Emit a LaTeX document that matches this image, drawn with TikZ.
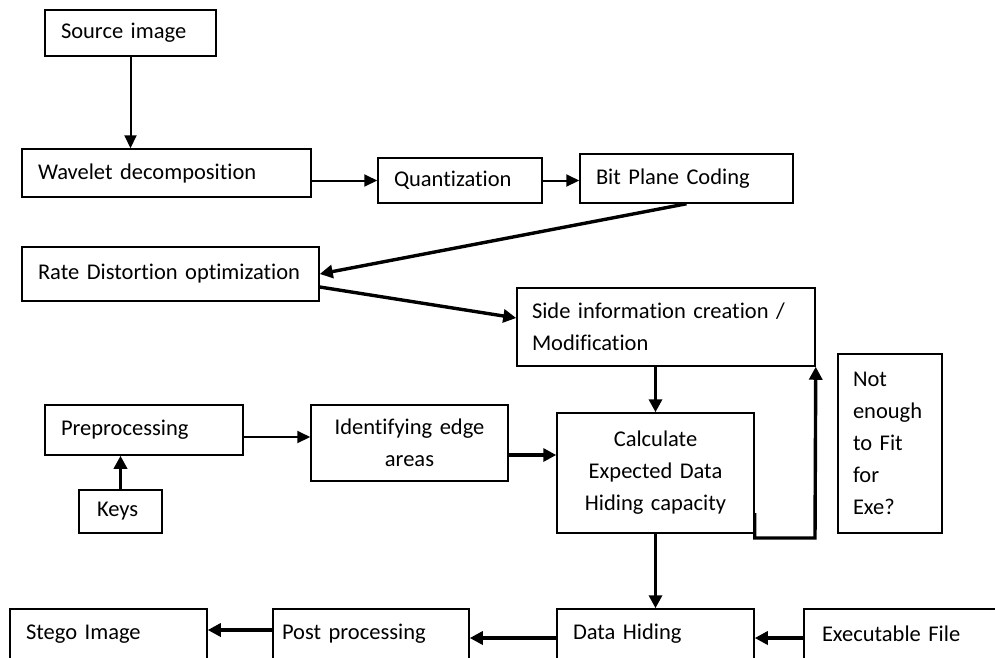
\documentclass[tikz,border=0pt]{standalone}
\usepackage{fontspec}
\setmainfont{Carlito}[Ligatures=NoCommon]
\usetikzlibrary{arrows.meta}
\tikzset{
  blk/.style={draw, line width=1.5pt, inner xsep=16pt, inner ysep=0pt, align=left,
    font=\fontsize{22.5}{32}\selectfont},
  cblk/.style={blk, align=center},
  arr/.style={line width=2pt, -{Triangle[length=13pt, width=12pt]}},
  harr/.style={line width=3.4pt, -{Triangle[length=13pt, width=13pt]}},
}

\begin{document}
\begin{tikzpicture}[x=1pt, y=-1pt]
\useasboundingbox[fill=white] (0,0) rectangle (995,657);
\clip (0,0) rectangle (995,657);

\coordinate (loop) at (815,538);

\node[blk, text width=139pt, minimum height=46pt] (src) at (130.5,33) {Source image};
\node[blk, text width=257pt, minimum height=48pt] (wav) at (166.5,173) {Wavelet decomposition};
\node[blk, text width=132pt, minimum height=45pt] (quant) at (460,180.5) {Quantization};
\node[blk, text width=181pt, minimum height=49pt] (bpc) at (686.5,178.5) {Bit Plane Coding};
\node[blk, text width=265pt, minimum height=54pt] (rdo) at (170.5,274) {Rate Distortion optimization};
\node[blk, inner xsep=15pt, text width=268pt, minimum height=78pt] (side) at (666,327)
  {Side information creation /\\Modification};
\node[cblk, text width=165pt, minimum height=120pt] (calc) at (655.5,473)
  {Calculate\\Expected Data\\Hiding capacity};
\node[blk, inner xsep=15pt, text width=74pt, minimum height=179pt] (fit) at (890,443.5)
  {Not\\enough\\to Fit\\for\\Exe?};
\node[blk, text width=166pt, minimum height=50pt] (prep) at (144,430) {Preprocessing};
\node[blk, inner xsep=18pt, text width=47pt, minimum height=43pt] (keys) at (120.5,511.5) {Keys};
\node[cblk, text width=165pt, minimum height=76pt] (edge) at (409.5,443) {Identifying edge\\areas};
\node[blk, text width=165pt, minimum height=50pt] (stego) at (108.5,634) {Stego Image};
\node[blk, inner xsep=9pt, text width=178pt, minimum height=50pt] (post) at (371,634) {Post processing};
\node[blk, text width=165pt, minimum height=50pt] (hide) at (655.5,634) {Data Hiding};
\node[blk, inner xsep=18pt, text width=164pt, minimum height=50pt] (exe) at (904,634) {Executable File};

\draw[arr] (src.south) -- (src.south |- wav.north);
\draw[arr] (wav.east |- quant.west) -- (quant.west);
\draw[arr] (quant.east) -- (quant.east -| bpc.west);
\draw[harr] (bpc.south) -- (rdo.east);
\draw[harr] ([yshift=-13pt]rdo.east) -- ([yshift=9pt]side.west);
\draw[harr] (side.south -| calc.north) -- (calc.north);
\draw[harr] ([yshift=-40pt]calc.east) |- (loop) -- (side.south east);
\draw[harr] (keys.north) -- (keys.north |- prep.south);
\draw[arr] ([yshift=-7pt]prep.east) -- ([yshift=-7pt]prep.east -| edge.west);
\draw[harr] ([yshift=-12pt]edge.east) -- ([yshift=-12pt]edge.east -| calc.west);
\draw[harr] (calc.south) -- (hide.north);
\draw[harr] ([yshift=-4pt]exe.west) -- ([yshift=-4pt]exe.west -| hide.east);
\draw[harr] ([yshift=-4pt]hide.west) -- ([yshift=-4pt]hide.west -| post.east);
\draw[harr] ([yshift=4pt]post.west) -- ([yshift=4pt]post.west -| stego.east);
\end{tikzpicture}
\end{document}
